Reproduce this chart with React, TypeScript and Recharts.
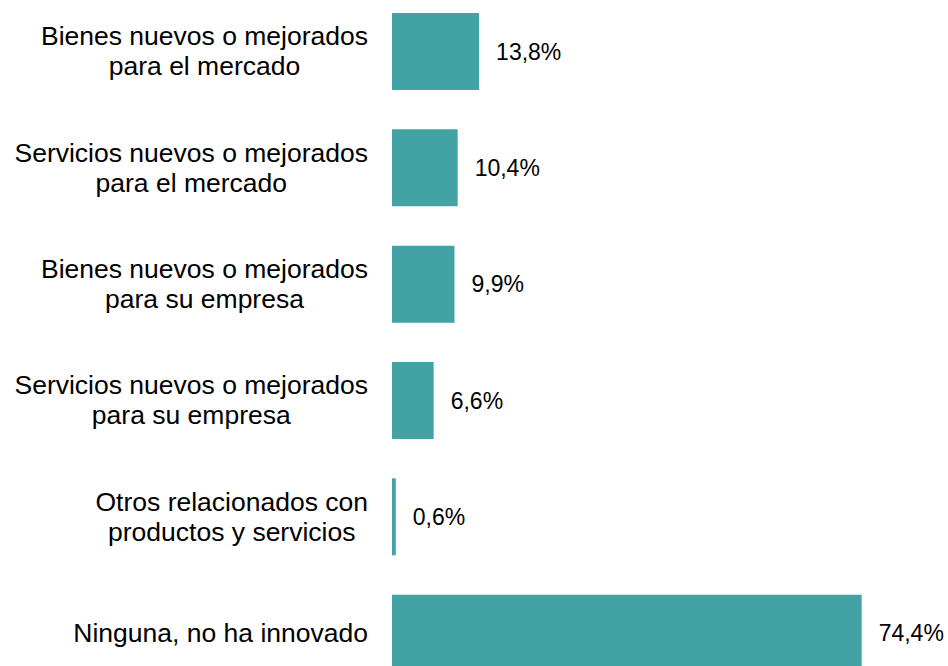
import React from "react";
import { BarChart, Bar, XAxis, YAxis, LabelList } from "recharts";

const categories = [
  "Bienes nuevos o mejorados\npara el mercado",
  "Servicios nuevos o mejorados\npara el mercado",
  "Bienes nuevos o mejorados\npara su empresa",
  "Servicios nuevos o mejorados\npara su empresa",
  "Otros relacionados con\nproductos y servicios",
  "Ninguna, no ha innovado",
];

const values = [13.8, 10.4, 9.9, 6.6, 0.6, 74.4];

const chartData = categories.map((name, i) => ({ name, value: values[i] }));

const FONT = "'Liberation Sans', Arial, sans-serif";
const TICK_SIZE = 26.5;

let ctx: CanvasRenderingContext2D | null = null;
const measure = (s: string) => {
  if (!ctx) ctx = document.createElement("canvas").getContext("2d");
  if (!ctx) return s.length * TICK_SIZE * 0.5;
  ctx.font = `${TICK_SIZE}px ${FONT}`;
  return ctx.measureText(s).width;
};

// labels are centred as a block, block right edge sits at the tick position
const CategoryTick = (props: any) => {
  const { x, y, payload } = props;
  const lines: string[] = String(payload.value).split("\n");
  const lineHeight = 30;
  const start = -((lines.length - 1) * lineHeight) / 2;
  const maxW = Math.max(...lines.map(measure));
  return (
    <g transform={`translate(${x - maxW / 2},${y})`}>
      {lines.map((line, i) => (
        <text
          key={i}
          x={0}
          y={start + i * lineHeight}
          dy="0.35em"
          textAnchor="middle"
          fill="#000"
          fontSize={TICK_SIZE}
          fontFamily={FONT}
        >
          {line}
        </text>
      ))}
    </g>
  );
};

const App: React.FC = () => {
  return (
    <div
      style={{
        position: "absolute",
        left: 0,
        top: 0,
        width: 948,
        height: 666,
        overflow: "hidden",
        background: "#fff",
      }}
    >
      <div style={{ position: "relative", top: -7 }}>
        <BarChart
          width={948}
          height={698}
          data={chartData}
          layout="vertical"
          margin={{ top: 0, right: 51, left: 0, bottom: 0 }}
        >
          <XAxis type="number" domain={[0, 80]} hide />
          <YAxis
            type="category"
            dataKey="name"
            width={392}
            axisLine={false}
            tickLine={false}
            tickMargin={18}
            tick={<CategoryTick />}
            interval={0}
          />
          <Bar dataKey="value" fill="#43A2A3" barSize={77} isAnimationActive={false}>
            <LabelList
              dataKey="value"
              position="right"
              offset={17}
              formatter={(v: any) => `${String(v).replace(".", ",")}%`}
              fill="#000"
              fontSize={23}
              fontFamily={FONT}
            />
          </Bar>
        </BarChart>
      </div>
    </div>
  );
};

export default App;
